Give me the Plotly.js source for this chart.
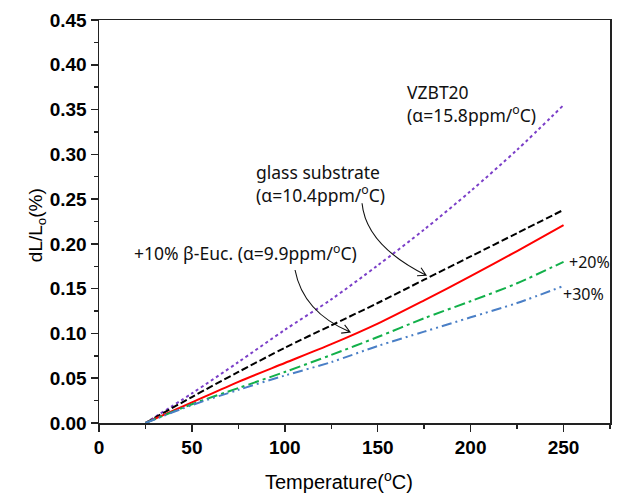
<!DOCTYPE html>
<html>
<head>
<meta charset="utf-8">
<script src="https://cdn.plot.ly/plotly-3.0.1.min.js"></script>
<style>html,body{margin:0;padding:0;background:#fff;}#chart{width:620px;height:497px;}</style>
</head>
<body>
<div id="chart"></div>
<script>
// Data
var temperature = [25, 50, 75, 100, 125, 150, 175, 200, 225, 250];
var vzbt20      = [0, 0.033, 0.068, 0.104, 0.138, 0.176, 0.216, 0.259, 0.305, 0.355];
var glass       = [0, 0.029, 0.057, 0.084, 0.109, 0.134, 0.160, 0.186, 0.212, 0.238];
var beuc10      = [0, 0.023, 0.046, 0.067, 0.088, 0.111, 0.137, 0.164, 0.192, 0.221];
var beuc20      = [0, 0.021, 0.039, 0.057, 0.076, 0.096, 0.117, 0.136, 0.156, 0.180];
var beuc30      = [0, 0.020, 0.037, 0.053, 0.068, 0.086, 0.102, 0.118, 0.134, 0.153];

var xTicks = [0, 50, 100, 150, 200, 250];
var yTicks = [0, 0.05, 0.10, 0.15, 0.20, 0.25, 0.30, 0.35, 0.40, 0.45];

function tr(y, color, dash) {
  return {x: temperature, y: y, mode: 'lines', type: 'scatter',
    line: {color: color, width: 2, dash: dash, shape: 'spline', smoothing: 0.8},
    hoverinfo: 'skip', showlegend: false};
}

var data = [
  tr(vzbt20, '#7b3fc8', 'dot'),
  tr(glass, '#000000', '7px,3px'),
  tr(beuc10, '#ff0000', 'solid'),
  tr(beuc20, '#12b04a', '11px,4px,3px,4px'),
  tr(beuc30, '#4a7fc6', '10px,4px,2px,4px,2px,4px')
];

var annFont = {family: 'Noto Sans, Open Sans, sans-serif', size: 17.5, color: '#111'};
var smallFont = {family: 'Noto Sans, Open Sans, sans-serif', size: 16, color: '#111'};

// arrow path in screen pixels relative to the tip (y flipped for pixel sizemode)
function arrowPath(sx, sy, cx, cy, a1x, a1y, a2x, a2y) {
  return 'M' + sx + ',' + (-sy) + ' Q' + cx + ',' + (-cy) + ' 0,0' +
         ' M' + a1x + ',' + (-a1y) + ' L0,0 L' + a2x + ',' + (-a2y);
}

var layout = {
  width: 620, height: 497,
  margin: {l: 99, r: 10, t: 20, b: 74},
  paper_bgcolor: '#fff', plot_bgcolor: '#fff',
  font: {family: 'Liberation Sans, Arial, sans-serif', color: '#000'},
  xaxis: {
    range: [0, 275], tickvals: xTicks, ticktext: xTicks.map(String),
    ticks: 'outside', ticklen: 7, tickwidth: 1.5, tickcolor: '#222',
    showline: true, linecolor: '#222', linewidth: 1.5, mirror: true,
    showgrid: false, zeroline: false,
    tickfont: {family: 'Liberation Sans, Arial, sans-serif', size: 19, weight: 'bold', color: '#000'},
    minor: {dtick: 25, tick0: 0, ticks: 'outside', ticklen: 4, tickwidth: 1.5, tickcolor: '#222', showgrid: false}
  },
  yaxis: {
    range: [0, 0.45], tickvals: yTicks, ticktext: yTicks.map(function(v){return v.toFixed(2);}),
    ticks: 'outside', ticklen: 7, tickwidth: 1.5, tickcolor: '#222',
    showline: true, linecolor: '#222', linewidth: 1.5, mirror: true,
    showgrid: false, zeroline: false,
    tickfont: {family: 'Liberation Sans, Arial, sans-serif', size: 19, weight: 'bold', color: '#000'},
    minor: {dtick: 0.025, tick0: 0, ticks: 'outside', ticklen: 4, tickwidth: 1.5, tickcolor: '#222', showgrid: false}
  },
  annotations: [
    {x: 0.47, y: -0.143, xref: 'paper', yref: 'paper', xanchor: 'center', yanchor: 'middle', showarrow: false,
     text: 'Temperature(<sup>o</sup>C)', font: {size: 20, family: 'Liberation Sans, Arial, sans-serif', color: '#000'}},
    {x: -0.122, y: 0.49, xref: 'paper', yref: 'paper', xanchor: 'center', yanchor: 'middle', showarrow: false,
     textangle: -90,
     text: 'dL/L<sub>o</sub>(%)', font: {size: 19, family: 'Liberation Sans, Arial, sans-serif', color: '#000'}},
    {x: 164.7, y: 0.385, xref: 'x', yref: 'y', xanchor: 'left', yanchor: 'top', align: 'left', showarrow: false,
     text: 'VZBT20<br>(α=15.8ppm/<sup>o</sup>C)', font: annFont},
    {x: 83.4, y: 0.2955, xref: 'x', yref: 'y', xanchor: 'left', yanchor: 'top', align: 'left', showarrow: false,
     text: 'glass substrate<br>(α=10.4ppm/<sup>o</sup>C)', font: annFont},
    {x: 18.0, y: 0.190, xref: 'x', yref: 'y', xanchor: 'left', yanchor: 'middle', align: 'left', showarrow: false,
     text: '+10% β-Euc. (α=9.9ppm/<sup>o</sup>C)', font: annFont},
    {x: 251.9, y: 0.180, xref: 'x', yref: 'y', xanchor: 'left', yanchor: 'middle', showarrow: false,
     text: '+20%', font: smallFont},
    {x: 248.7, y: 0.144, xref: 'x', yref: 'y', xanchor: 'left', yanchor: 'middle', showarrow: false,
     text: '+30%', font: smallFont}
  ],
  shapes: [
    {type: 'path', xref: 'x', yref: 'y', xsizemode: 'pixel', ysizemode: 'pixel',
     xanchor: 176.0, yanchor: 0.165,
     path: arrowPath(-64, -72, -60, -30, -5, -7.5, -9, 0.5),
     line: {color: '#111', width: 1.1}},
    {type: 'path', xref: 'x', yref: 'y', xsizemode: 'pixel', ysizemode: 'pixel',
     xanchor: 135.1, yanchor: 0.1016,
     path: arrowPath(-55, -62, -47, -20, -5.4, -7.2, -8.9, 1.1),
     line: {color: '#111', width: 1.1}}
  ]
};

Plotly.newPlot('chart', data, layout, {staticPlot: true, displayModeBar: false});
</script>
</body>
</html>
